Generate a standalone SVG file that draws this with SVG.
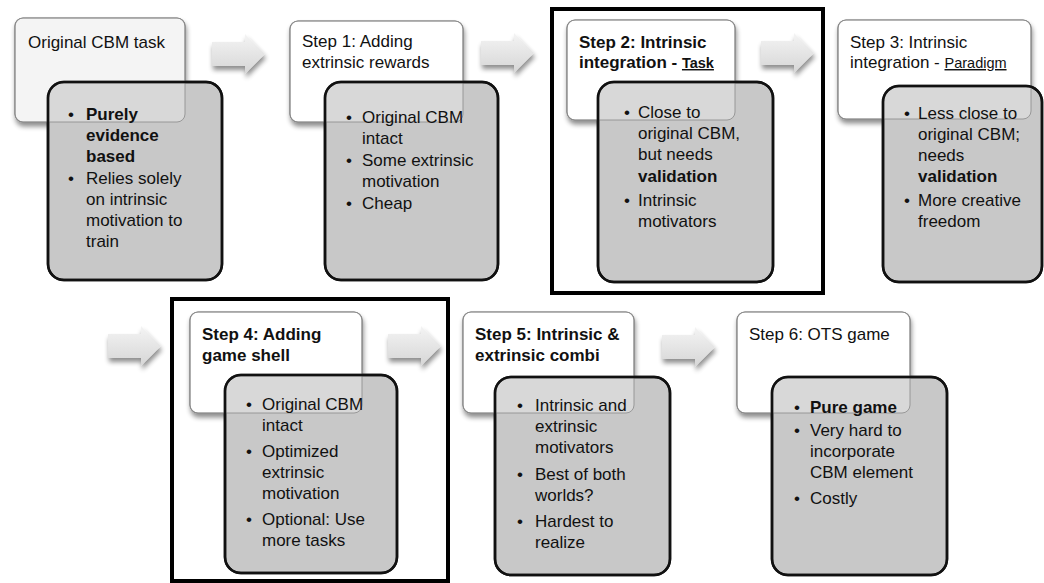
<svg xmlns="http://www.w3.org/2000/svg" width="1044" height="583" viewBox="0 0 1044 583">
<defs>
<filter id="sh" x="-15%" y="-15%" width="135%" height="150%">
<feGaussianBlur in="SourceAlpha" stdDeviation="2.5"/>
<feOffset dx="1" dy="4"/>
<feComponentTransfer><feFuncA type="linear" slope="0.45"/></feComponentTransfer>
<feMerge><feMergeNode/><feMergeNode in="SourceGraphic"/></feMerge>
</filter>
<linearGradient id="ag" x1="0" y1="0" x2="0" y2="1">
<stop offset="0" stop-color="#f4f4f4"/>
<stop offset="1" stop-color="#d6d6d6"/>
</linearGradient>
<path id="arr" d="M0,-12 H33 V-20 L53,0 L33,20 V12 H0 Z"/>
</defs>
<style>
text{font-family:"Liberation Sans",Arial,sans-serif;font-size:17px;fill:#111}
.b{font-weight:bold}
.u{text-decoration:underline;font-size:14.5px}
.wb{fill:#fff;stroke:#7a7a7a;stroke-width:1.2}
.lb{fill:#efefef;stroke:#7a7a7a;stroke-width:1.2}
.ov{fill:#fff;fill-opacity:0.3;stroke:#8a8a8a;stroke-width:1;stroke-opacity:0.8}
.db{fill:#c8c8c8;stroke:#111;stroke-width:2.5}
.ds{fill:none;stroke:#111;stroke-width:2.5}
.frame{fill:none;stroke:#000;stroke-width:4}
.arrow{fill:url(#ag);filter:url(#sh)}
</style>
<rect width="1044" height="583" fill="#fff"/>

<g id="frames">
<rect class="frame" x="552" y="9" width="271" height="284"/>
<rect class="frame" x="172" y="299" width="276" height="282"/>
</g>

<g id="connectors">
<use href="#arr" class="arrow" transform="translate(212,54)"/>
<use href="#arr" class="arrow" transform="translate(481,53)"/>
<use href="#arr" class="arrow" transform="translate(761,53)"/>
<use href="#arr" class="arrow" transform="translate(108,346)"/>
<use href="#arr" class="arrow" transform="translate(388,346)"/>
<use href="#arr" class="arrow" transform="translate(662,347)"/>
</g>

<g id="node0">
<rect class="lb" x="15" y="18" width="170" height="104" rx="8" filter="url(#sh)"/>
<rect class="db" x="48" y="82" width="174" height="198" rx="16"/>
<rect class="ov" x="15" y="18" width="170" height="104" rx="8" fill="#efefef"/>
<rect class="ds" x="48" y="82" width="174" height="198" rx="16"/>
<text x="28" y="48">Original CBM task</text>
<text x="68" y="120">•</text><text x="86" y="120" class="b">Purely</text>
<text x="86" y="141" class="b">evidence</text>
<text x="86" y="162" class="b">based</text>
<text x="68" y="184">•</text><text x="86" y="184">Relies solely</text>
<text x="86" y="205">on intrinsic</text>
<text x="86" y="226">motivation to</text>
<text x="86" y="247">train</text>
</g>

<g id="node1">
<rect class="wb" x="290" y="21" width="173" height="101" rx="8" filter="url(#sh)"/>
<rect class="db" x="325" y="82" width="173" height="198" rx="16"/>
<rect class="ov" x="290" y="21" width="173" height="101" rx="8"/>
<rect class="ds" x="325" y="82" width="173" height="198" rx="16"/>
<text x="302" y="47">Step 1: Adding</text>
<text x="302" y="68">extrinsic rewards</text>
<text x="346" y="123">•</text><text x="362" y="123">Original CBM</text>
<text x="362" y="144">intact</text>
<text x="346" y="166">•</text><text x="362" y="166">Some extrinsic</text>
<text x="362" y="187">motivation</text>
<text x="346" y="209">•</text><text x="362" y="209">Cheap</text>
</g>

<g id="node2">
<rect class="wb" x="567" y="20" width="168" height="100" rx="8" filter="url(#sh)"/>
<rect class="db" x="598" y="82" width="175" height="200" rx="16"/>
<rect class="ov" x="567" y="20" width="168" height="100" rx="8"/>
<rect class="ds" x="598" y="82" width="175" height="200" rx="16"/>
<text x="579" y="48" class="b">Step 2: Intrinsic</text>
<text x="579" y="68" class="b">integration - <tspan class="u">Task</tspan></text>
<text x="624" y="118">•</text><text x="638" y="118">Close to</text>
<text x="638" y="139">original CBM,</text>
<text x="638" y="160">but needs</text>
<text x="638" y="182" class="b">validation</text>
<text x="624" y="206">•</text><text x="638" y="206">Intrinsic</text>
<text x="638" y="227">motivators</text>
</g>

<g id="node3">
<rect class="wb" x="838" y="20" width="193" height="99" rx="8" filter="url(#sh)"/>
<rect class="db" x="883" y="86" width="159" height="196" rx="16"/>
<rect class="ov" x="838" y="20" width="193" height="99" rx="8"/>
<rect class="ds" x="883" y="86" width="159" height="196" rx="16"/>
<text x="850" y="48">Step 3: Intrinsic</text>
<text x="850" y="68">integration - <tspan class="u">Paradigm</tspan></text>
<text x="904" y="119">•</text><text x="918" y="119">Less close to</text>
<text x="918" y="140">original CBM;</text>
<text x="918" y="161">needs</text>
<text x="918" y="182" class="b">validation</text>
<text x="904" y="206">•</text><text x="918" y="206">More creative</text>
<text x="918" y="227">freedom</text>
</g>

<g id="node4">
<rect class="wb" x="190" y="312" width="172" height="101" rx="8" filter="url(#sh)"/>
<rect class="db" x="225" y="375" width="172" height="198" rx="16"/>
<rect class="ov" x="190" y="312" width="172" height="101" rx="8"/>
<rect class="ds" x="225" y="375" width="172" height="198" rx="16"/>
<text x="202" y="340" class="b">Step 4: Adding</text>
<text x="202" y="361" class="b">game shell</text>
<text x="246" y="410">•</text><text x="262" y="410">Original CBM</text>
<text x="262" y="431">intact</text>
<text x="246" y="457">•</text><text x="262" y="457">Optimized</text>
<text x="262" y="478">extrinsic</text>
<text x="262" y="499">motivation</text>
<text x="246" y="525">•</text><text x="262" y="525">Optional: Use</text>
<text x="262" y="546">more tasks</text>
</g>

<g id="node5">
<rect class="wb" x="463" y="312" width="171" height="101" rx="8" filter="url(#sh)"/>
<rect class="db" x="495" y="377" width="175" height="198" rx="16"/>
<rect class="ov" x="463" y="312" width="171" height="101" rx="8"/>
<rect class="ds" x="495" y="377" width="175" height="198" rx="16"/>
<text x="475" y="340" class="b">Step 5: Intrinsic &amp;</text>
<text x="475" y="361" class="b">extrinsic combi</text>
<text x="517" y="411">•</text><text x="535" y="411">Intrinsic and</text>
<text x="535" y="432">extrinsic</text>
<text x="535" y="453">motivators</text>
<text x="517" y="480">•</text><text x="535" y="480">Best of both</text>
<text x="535" y="501">worlds?</text>
<text x="517" y="527">•</text><text x="535" y="527">Hardest to</text>
<text x="535" y="548">realize</text>
</g>

<g id="node6">
<rect class="wb" x="737" y="312" width="173" height="101" rx="8" filter="url(#sh)"/>
<rect class="db" x="772" y="377" width="175" height="198" rx="16"/>
<rect class="ov" x="737" y="312" width="173" height="101" rx="8"/>
<rect class="ds" x="772" y="377" width="175" height="198" rx="16"/>
<text x="749" y="340">Step 6: OTS game</text>
<text x="794" y="413">•</text><text x="810" y="413" class="b">Pure game</text>
<text x="794" y="436">•</text><text x="810" y="436">Very hard to</text>
<text x="810" y="457">incorporate</text>
<text x="810" y="478">CBM element</text>
<text x="794" y="504">•</text><text x="810" y="504">Costly</text>
</g>
</svg>
